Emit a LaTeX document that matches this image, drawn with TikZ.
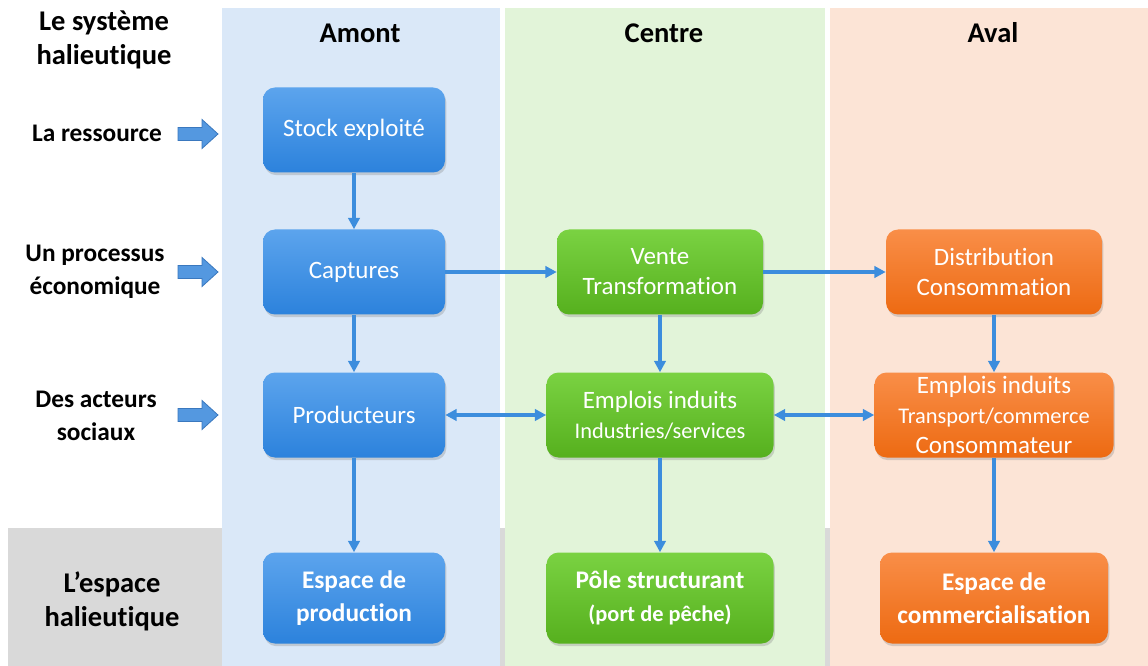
\documentclass[tikz,border=0pt]{standalone}
\usepackage{fontspec}
\setmainfont{Carlito}[RawFeature={-liga}]
\usetikzlibrary{arrows.meta,shadows}
\definecolor{colA}{RGB}{218,232,248}
\definecolor{colC}{RGB}{226,244,217}
\definecolor{colV}{RGB}{252,228,214}
\definecolor{bandgray}{RGB}{217,217,217}
\definecolor{conncol}{RGB}{60,141,221}
\definecolor{bluetop}{RGB}{92,164,237}
\definecolor{bluebot}{RGB}{44,130,220}
\definecolor{greentop}{RGB}{122,210,66}
\definecolor{greenbot}{RGB}{86,176,30}
\definecolor{orangetop}{RGB}{249,142,72}
\definecolor{orangebot}{RGB}{237,106,18}
\definecolor{barrowfill}{RGB}{84,152,224}
\definecolor{barrowdraw}{RGB}{58,120,190}
\newcommand\pxu{0.75pt}
\newcommand\fboxtxt{\fontsize{18.75}{22.5}\selectfont}
\newcommand\fsmall{\fontsize{16.8}{21}\selectfont}
\newcommand\flab{\bfseries\fontsize{19}{24.5}\selectfont}
\newcommand\ftitle{\bfseries\fontsize{21.4}{25.5}\selectfont}
\tikzset{
  box/.style={rounded corners=9pt, minimum width=#1*\pxu, text=white, align=center,
    inner sep=0pt, drop shadow={shadow xshift=1pt, shadow yshift=-2pt, opacity=0.3}},
  bluebox/.style={box=#1, top color=bluetop, bottom color=bluebot},
  greenbox/.style={box=#1, top color=greentop, bottom color=greenbot},
  orangebox/.style={box=#1, top color=orangetop, bottom color=orangebot},
  rowbox/.style={minimum height=85*\pxu},
  lastbox/.style={minimum height=91*\pxu},
  conn/.style={draw=conncol, line width=2.4pt, -{Triangle[length=8.5pt,width=8.5pt]}},
  dconn/.style={draw=conncol, line width=2.4pt, {Triangle[length=8.5pt,width=8.5pt]}-{Triangle[length=8.5pt,width=8.5pt]}},
  lab/.style={align=center, inner sep=0pt, font=\flab},
  ttl/.style={align=center, inner sep=0pt, font=\ftitle},
  barrow/.style={fill=barrowfill, draw=barrowdraw, line width=0.6pt, line join=miter}
}
\begin{document}
\begin{tikzpicture}[x=0.75pt, y=-0.75pt]
\useasboundingbox (0,0) rectangle (1148,666);
\fill[white] (0,0) rectangle (1148,666);
% background band and columns
\fill[bandgray] (8,528) rectangle (1148,666);
\fill[colA] (222,8) rectangle (500,666);
\fill[colC] (505,8) rectangle (825,666);
\fill[colV] (830,8) rectangle (1148,666);
% headers
\node[ttl] (hA) at (360,33) {Amont};
\node[ttl] (hC) at (664,33) {Centre};
\node[ttl] (hV) at (993,33) {Aval};
% left labels
\node[ttl] (titre) at (104,40) {Le système\\halieutique};
\node[lab] (l1) at (97,133) {La ressource};
\node[lab] (l2) at (95,272) {Un processus\\économique};
\node[lab] (l3) at (96,416) {Des acteurs\\sociaux};
\node[ttl] (l4) at (112,601) {L’espace\\halieutique};
% block arrows
\foreach \yy in {134,272,415}{
  \draw[barrow] (178,\yy-6.5) -- (202,\yy-6.5) -- (202,\yy-14.5) -- (218,\yy) -- (202,\yy+14.5) -- (202,\yy+6.5) -- (178,\yy+6.5) -- cycle;
}
% Amont boxes
\node[bluebox=182, rowbox, font=\fboxtxt] (stock) at (354,130) {Stock exploité};
\node[bluebox=182, rowbox, font=\fboxtxt] (capt) at (354,272) {Captures};
\node[bluebox=182, rowbox, font=\fboxtxt] (prod) at (354,415) {Producteurs};
\node[bluebox=182, lastbox, font=\flab] (espprod) at (354,598) {Espace de\\production};
% Centre boxes
\node[greenbox=206, rowbox, font=\fboxtxt] (vente) at (660,272) {Vente\\Transformation};
\node[greenbox=227, rowbox, font=\fboxtxt] (empc) at (660,415) {Emplois induits\\{\fsmall Industries/services}};
\node[greenbox=227, lastbox, font=\flab] (pole) at (660,598) {Pôle structurant\\{\bfseries\fsmall (port de pêche)}};
% Aval boxes
\node[orangebox=216, rowbox, font=\fboxtxt] (dist) at (994,272) {Distribution\\Consommation};
\node[orangebox=239, rowbox, font=\fboxtxt, align=center] (empa) at (994,415) {\fontsize{18.75}{21}\selectfont Emplois induits\\{\fsmall Transport/commerce}\\\fontsize{18.75}{21}\selectfont Consommateur};
\node[orangebox=228, lastbox, font=\flab] (espcom) at (994,598) {Espace de\\commercialisation};
% connectors
\draw[conn] (stock) -- (capt);
\draw[conn] (capt) -- (prod);
\draw[conn] (prod) -- (espprod);
\draw[conn] (capt) -- (vente);
\draw[conn] (vente) -- (dist);
\draw[conn] (vente) -- (empc);
\draw[conn] (empc) -- (pole);
\draw[conn] (dist) -- (empa);
\draw[conn] (empa) -- (espcom);
\draw[dconn] (prod) -- (empc);
\draw[dconn] (empc) -- (empa);
\end{tikzpicture}
\end{document}
